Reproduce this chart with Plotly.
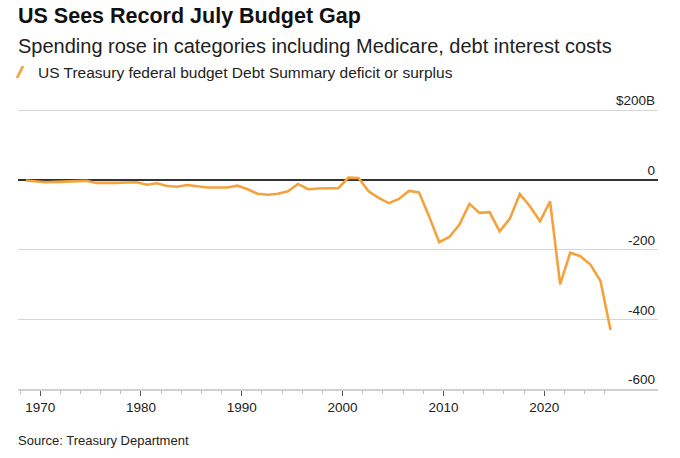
import plotly.graph_objects as go

# July federal budget deficit (-) or surplus (+), billions of dollars
years = list(range(1968, 2027))
balance = [
    -2, -4, -7, -6, -5, -4, -3, -9, -10, -9,
    -8, -7, -14, -10, -18, -20, -15, -19, -22, -22,
    -22, -17, -27, -40, -43, -40, -33, -12, -27, -25,
    -25, -24, 6, 5, -33, -52, -67, -55, -32, -36,
    -105, -179, -164, -129, -69, -95, -93, -148, -112, -41,
    -76, -119, -62, -300, -209, -219, -243, -290, -431,
]
dates = [f"{y}-07-31" for y in years]

x_major_years = [1970, 1980, 1990, 2000, 2010, 2020]
x_minor_years = list(range(1968, 2027, 2))

y_ticks = [200, 0, -200, -400, -600]
y_labels = ["$200B", "0", "-200", "-400", "-600"]

orange = "#F4A23B"
font = "Liberation Sans"

fig = go.Figure()
fig.add_trace(go.Scatter(
    x=dates,
    y=balance,
    mode="lines",
    line=dict(color=orange, width=2.6),
    showlegend=False,
    hoverinfo="x+y",
))

fig.update_layout(
    width=680,
    height=458,
    margin=dict(l=18, r=22, t=109, b=69),
    paper_bgcolor="white",
    plot_bgcolor="white",
    font=dict(family=font, color="#222", size=13),
    xaxis=dict(
        type="date",
        range=["1967-10-20", "2031-04-15"],
        showgrid=False,
        zeroline=False,
        showline=True,
        linecolor="#d0d0d0",
        linewidth=1.5,
        tickvals=[f"{y}-01-01" for y in x_major_years],
        ticktext=[str(y) for y in x_major_years],
        ticks="outside",
        ticklen=5,
        tickwidth=1,
        tickcolor="#555",
        tickfont=dict(size=13.5, color="#222"),
        minor=dict(
            tickvals=[f"{y}-01-01" for y in x_minor_years],
            ticks="outside",
            ticklen=3,
            tickcolor="#bbb",
            showgrid=False,
        ),
    ),
    yaxis=dict(
        range=[-600, 203],
        side="right",
        tickvals=y_ticks,
        ticktext=y_labels,
        ticklabelposition="inside top",
        ticklabeloverflow="allow",
        ticks="",
        showgrid=True,
        gridcolor="#d6d6d6",
        gridwidth=1,
        zeroline=True,
        zerolinecolor="#333",
        zerolinewidth=1.5,
        showline=False,
        tickfont=dict(size=13.5, color="#222"),
    ),
)

# legend swatch (diagonal slash) and text
fig.add_shape(
    type="line",
    xref="paper", xsizemode="pixel", xanchor=0, x0=-1, x1=5,
    yref="paper", ysizemode="pixel", yanchor=1, y0=31, y1=43,
    line=dict(color=orange, width=2.6),
)
fig.add_annotation(
    text="US Treasury federal budget Debt Summary deficit or surplus",
    xref="paper", yref="paper",
    x=0.0, y=1.0, xshift=18, yshift=37, xanchor="left", yanchor="middle",
    showarrow=False,
    font=dict(family=font, size=15.5, color="#222"),
)

# title and subtitle
fig.add_annotation(
    text="<b>US Sees Record July Budget Gap</b>",
    xref="paper", yref="paper",
    x=0.0, y=1.0, xshift=-2, yshift=93, xanchor="left", yanchor="middle",
    showarrow=False,
    font=dict(family=font, size=21.5, color="#111"),
)
fig.add_annotation(
    text="Spending rose in categories including Medicare, debt interest costs",
    xref="paper", yref="paper",
    x=0.0, y=1.0, xshift=-2, yshift=63, xanchor="left", yanchor="middle",
    showarrow=False,
    font=dict(family=font, size=20, color="#222"),
)

# source note
fig.add_annotation(
    text="Source: Treasury Department",
    xref="paper", yref="paper",
    x=0.0, y=0.0, xshift=-2, yshift=-51, xanchor="left", yanchor="middle",
    showarrow=False,
    font=dict(family=font, size=13, color="#222"),
)

# drop the default page margin so the figure sits at the window's corner
fig.write_html(
    "out.html",
    config={"displayModeBar": False},
    post_script="document.body.style.margin = '0px';",
)
